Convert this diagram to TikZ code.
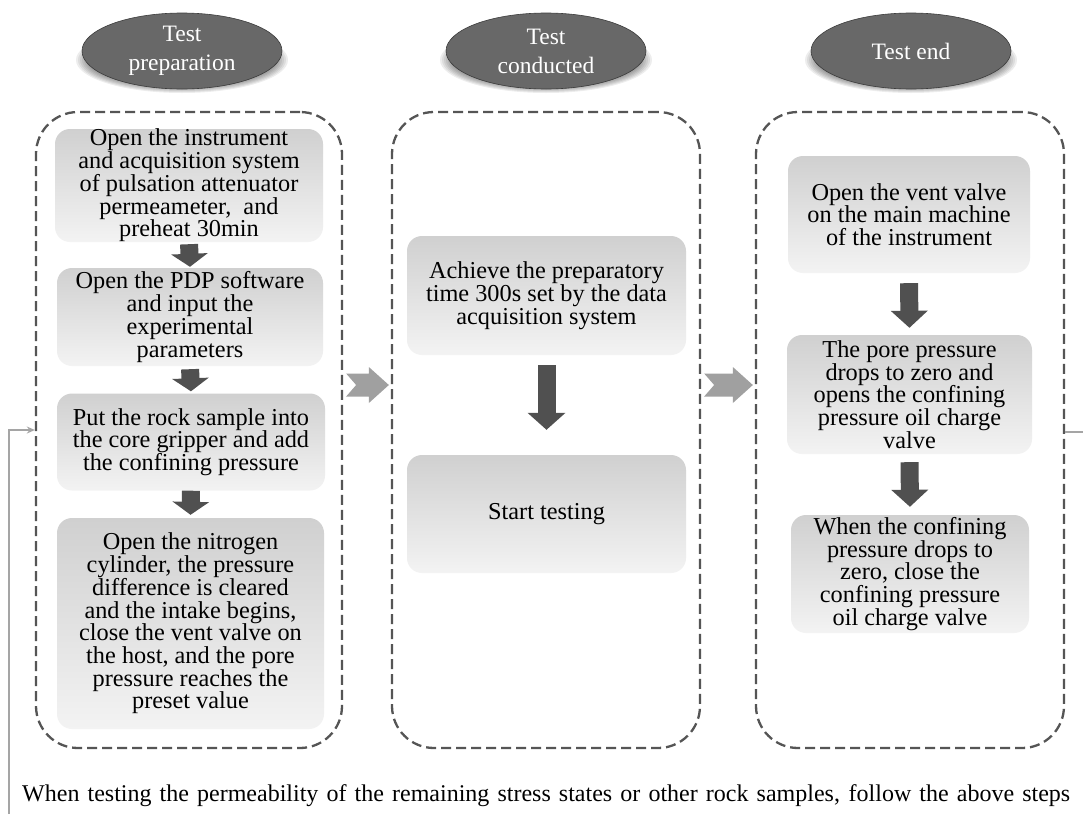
\documentclass[tikz,border=0pt]{standalone}
\usepackage{fontspec}
\setmainfont{Liberation Serif}
\usetikzlibrary{arrows.meta,calc,backgrounds,shapes.geometric}
\definecolor{framec}{RGB}{85,85,85}
\definecolor{boxtop}{RGB}{208,208,208}
\definecolor{boxbot}{RGB}{243,243,243}
\definecolor{ellfill}{RGB}{104,104,104}
\definecolor{ellc}{RGB}{60,60,60}
\definecolor{darkar}{RGB}{80,80,80}
\definecolor{grayar}{RGB}{160,160,160}
\definecolor{fbc}{RGB}{165,165,165}
\newcommand\boxfont{\fontsize{24.3}{22.7}\selectfont}
\newcommand\phasefont{\fontsize{23.5}{29}\selectfont}
\newcommand\grayarrow[3]{%
  \fill[grayar] let \p1=(#1.east), \p2=(#2.west), \p3=(0,#3) in
    (\x1+3pt,\y3+11.5pt) -- (\x2-22pt,\y3+11.5pt) -- (\x2-22pt,\y3+18pt) --
    (\x2-2pt,\y3) -- (\x2-22pt,\y3-18pt) -- (\x2-22pt,\y3-11.5pt) --
    (\x1+3pt,\y3-11.5pt) -- (\x1+13pt,\y3) -- cycle;}
\begin{document}
\begin{tikzpicture}[x=1pt,y=-1pt,
  frame/.style={draw=framec, line width=2.3pt, dash pattern=on 10pt off 5pt,
    rounded corners=42pt, minimum height=636pt, inner sep=0pt},
  stepbox/.style={rounded corners=15pt, top color=boxtop, bottom color=boxbot,
    align=center, font=\boxfont, inner sep=0pt},
  phase/.style={ellipse, draw=ellc, line width=0.6pt, fill=ellfill, text=white,
    minimum width=200pt, minimum height=76pt, align=center, font=\phasefont, inner sep=0pt},
  darrow/.style={draw=darkar, line width=18pt, -{Triangle[width=36pt,length=15pt]}},
  fb/.style={draw=fbc, line width=1.6pt}]
\useasboundingbox (0,0) rectangle (1083,814);

% phase ellipses
\node[phase] (e1) at (182,51) {Test\\preparation};
\node[phase] (e2) at (546,51) {Test\\conducted};
\node[phase] (e3) at (911,51) {Test end};

% dashed frames
\node[frame, minimum width=306pt] (fL) at (189,430) {};
\node[frame, minimum width=308pt] (fM) at (546,430) {};
\node[frame, minimum width=308pt] (fR) at (910,430) {};

% left column
\node[stepbox, minimum width=268pt, minimum height=113pt] (b1) at (189,185.5)
  {Open the instrument\\and acquisition system\\of pulsation attenuator\\permeameter,\ \ and\\preheat 30min};
\node[stepbox, minimum width=266pt, minimum height=98pt] (b2) at (190,317)
  {Open the PDP software\\and input the\\experimental\\parameters};
\node[stepbox, minimum width=268pt, minimum height=97pt] (b3) at (191,442)
  {Put the rock sample into\\the core gripper and add\\the confining pressure};
\node[stepbox, minimum width=267pt, minimum height=211pt] (b4) at (190.5,623.5)
  {Open the nitrogen\\cylinder,\ the pressure\\difference is cleared\\and the intake begins,\\close the vent valve on\\the host, and the pore\\pressure reaches the\\preset value};

% middle column
\node[stepbox, minimum width=279pt, minimum height=119pt] (m1) at (546.5,295.5)
  {Achieve the preparatory\\time 300s set by the data\\acquisition system};
\node[stepbox, minimum width=279pt, minimum height=118pt] (m2) at (546.5,514)
  {Start testing};

% right column
\node[stepbox, minimum width=242pt, minimum height=117pt] (r1) at (909,214.5)
  {Open the vent valve\\on the main machine\\of the instrument};
\node[stepbox, minimum width=245pt, minimum height=119pt] (r2) at (909.5,394.5)
  {The pore pressure\\drops to zero and\\opens the confining\\pressure oil charge\\valve};
\node[stepbox, minimum width=238pt, minimum height=118pt] (r3) at (910,574)
  {When the confining\\pressure drops to\\zero, close the\\confining pressure\\oil charge valve};

% dark down arrows
\draw[darrow, -{Triangle[width=36pt,length=13pt]}, shorten <=2pt, shorten >=1pt] (b1.south) -- (b2.north);
\draw[darrow, -{Triangle[width=36pt,length=13pt]}, shorten <=3pt, shorten >=2pt] (b2.south) -- (b3.north);
\draw[darrow, -{Triangle[width=36pt,length=13pt]}, shorten <=0pt, shorten >=3pt] (b3.south) -- (b4.north);
\draw[darrow, -{Triangle[width=37pt,length=17pt]}, shorten <=10pt, shorten >=25pt] (m1.south) -- (m2.north);
\draw[darrow, -{Triangle[width=36pt,length=17pt]}, shorten <=10pt, shorten >=7pt] (r1.south) -- (r2.north);
\draw[darrow, -{Triangle[width=36pt,length=17pt]}, shorten <=8pt, shorten >=8pt] (r2.south) -- (r3.north);

% grey arrows between phases
\grayarrow{fL}{fM}{385}
\grayarrow{fM}{fR}{385}

% feedback loop
\coordinate (fbin) at (9,814);
\coordinate (fbout) at (1083,432);
\draw[fb, -{Stealth[length=8pt,width=7pt]}] (fbin) |- (fL.west);
\draw[fb] (fR.east |- fbout) -- (fbout);

% bottom note
\node[anchor=base west, inner sep=0pt, font=\fontsize{24}{28}\selectfont] (note) at (22,801)
  {\makebox[1048pt][s]{When testing the permeability of the remaining stress states or other rock samples, follow the above steps}};

\begin{scope}[on background layer]
  \fill[white] (0,0) rectangle (1083,814);
  \foreach \e in {e1,e2,e3}{
    \foreach \k in {0,...,6}{
      \fill[black, opacity=0.07] ([yshift=-9pt]\e.center) ellipse [x radius={106-2*\k}, y radius={33-\k}];
    }
  }
\end{scope}
\end{tikzpicture}
\end{document}
